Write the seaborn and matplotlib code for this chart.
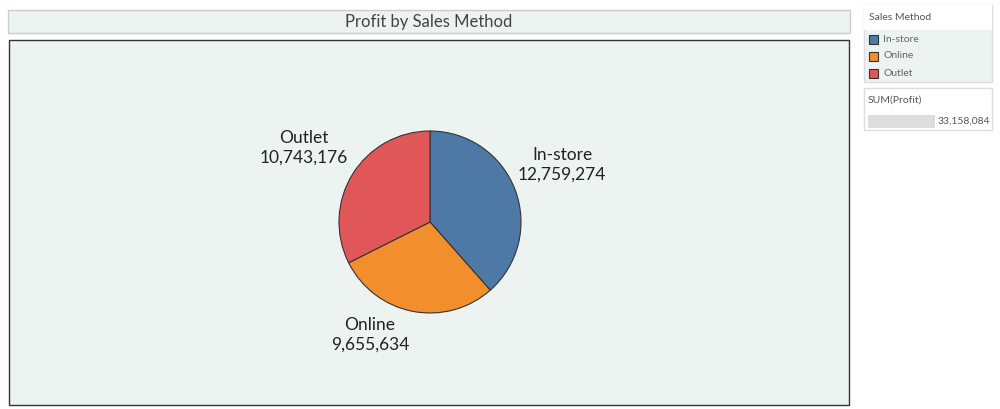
import matplotlib
matplotlib.use("Agg")
import matplotlib.pyplot as plt
import matplotlib.patches as mpatches
import seaborn as sns

# data
methods = ["In-store", "Online", "Outlet"]
profit = [12759274, 9655634, 10743176]
total_label = "33,158,084"

sns.set_theme(style="white")
plt.rcParams['font.family'] = ['Lato', 'DejaVu Sans']
colors = ["#4E79A7", "#F28E2B", "#E15759"]
bg = "#EDF3F1"

fig = plt.figure(figsize=(10, 4.09), dpi=100)
fig.patch.set_facecolor("white")
ax = fig.add_axes([0, 0, 1, 1])
ax.set_xlim(0, 1000)
ax.set_ylim(0, 409)
ax.axis("off")

def Y(y):
    return 409 - y

# panels
ax.add_patch(mpatches.Rectangle((8, Y(33)), 842, 23, facecolor=bg, edgecolor="#cccccc", lw=1))
ax.text(429, Y(22), "Profit by Sales Method", ha="center", va="center", fontsize=12, color="#444444")
ax.add_patch(mpatches.Rectangle((9, Y(405)), 840, 365, facecolor=bg, edgecolor="#333333", lw=1))
ax.add_patch(mpatches.Rectangle((864, Y(82)), 128, 77, facecolor=bg, edgecolor="#dddddd", lw=1))
ax.add_patch(mpatches.Rectangle((864, Y(30)), 128, 25, facecolor="white", edgecolor="none"))
ax.add_patch(mpatches.Rectangle((864, Y(130)), 128, 42, facecolor="white", edgecolor="#dddddd", lw=1))

# pie
ax.pie(profit, colors=colors, startangle=90, counterclock=False, center=(430, Y(222)),
       radius=91, wedgeprops={"edgecolor": "#333333", "linewidth": 0.8}, frame=True)
ax.set_xlim(0, 1000)
ax.set_ylim(0, 409)
ax.axis("off")

label_pos = [(562, 165), (370, 335), (304, 148)]
for m, v, (x, y) in zip(methods, profit, label_pos):
    ax.text(x, Y(y), f"{m}\n{v:,}", ha="center", va="center", fontsize=12.5,
            color="#222222", linespacing=1.3)

# legend
ax.text(869, Y(17), "Sales Method", ha="left", va="center", fontsize=7.5, color="#555555")
for i, (m, c) in enumerate(zip(methods, colors)):
    yy = 39 + i * 17
    ax.add_patch(mpatches.Rectangle((869, Y(yy + 5)), 9, 9, facecolor=c, edgecolor="#333333", lw=0.8))
    ax.text(883, Y(yy), m, ha="left", va="center", fontsize=7.5, color="#666666")

ax.text(868, Y(100), "SUM(Profit)", ha="left", va="center", fontsize=7.5, color="#555555")
ax.add_patch(mpatches.Rectangle((868, Y(128)), 67, 13, facecolor="#dddddd", edgecolor="none"))
ax.text(990, Y(121), total_label, ha="right", va="center", fontsize=7.5, color="#555555")

fig.savefig("out.png", dpi=100)
